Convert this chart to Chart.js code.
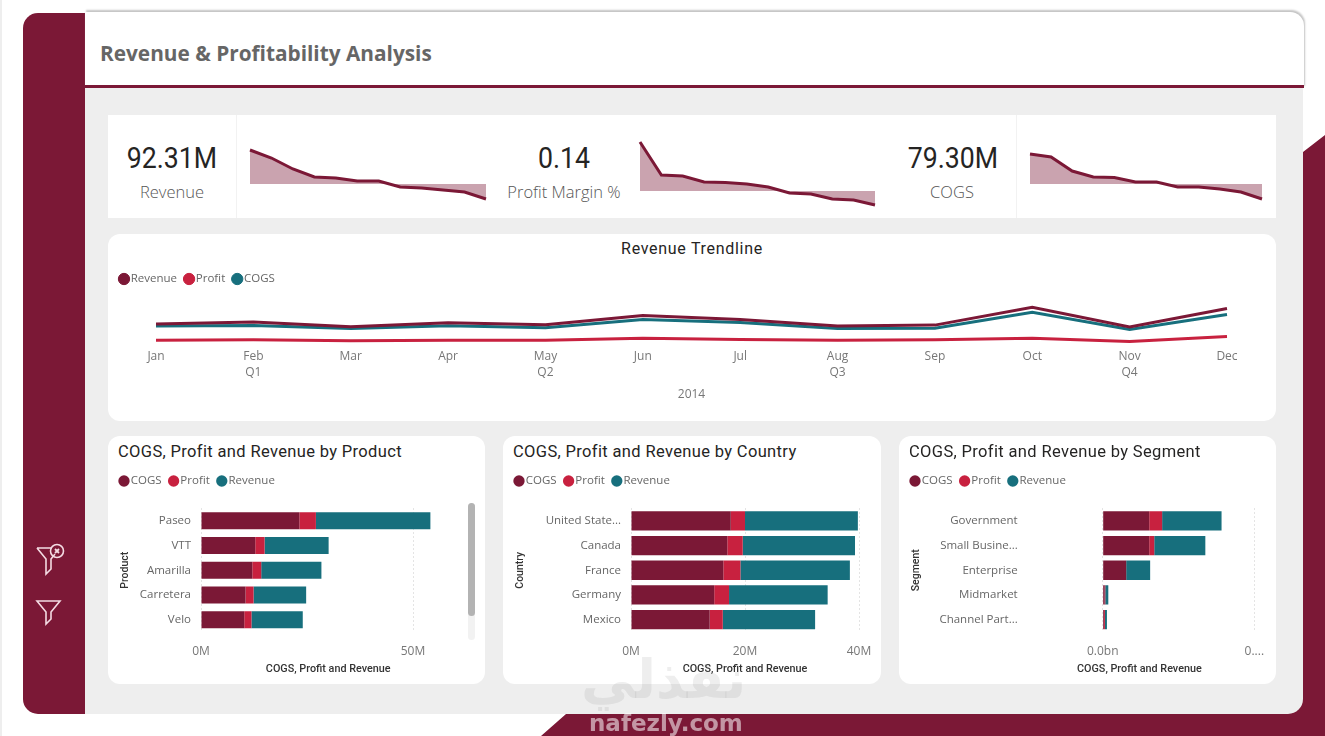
<!DOCTYPE html>
<html>
<head>
<meta charset="utf-8">
<title>Revenue & Profitability Analysis</title>
<script src="https://cdn.jsdelivr.net/npm/chart.js@4"></script>
<style>
  html, body { margin: 0; padding: 0; background: #fff; overflow: hidden; }
  #page { position: relative; width: 1325px; height: 736px; overflow: hidden; font-family: "Open Sans", sans-serif; }
  #page > * { position: absolute; }
  canvas { position: absolute; }
  .edge { left: 0; top: 0; width: 2px; height: 736px; background: #eee; }
  .side { left: 23px; top: 13px; width: 62px; height: 701px; background: #7b1836; border-radius: 15px 0 0 15px; }
  .corner { left: 0; top: 0; width: 1325px; height: 736px; background: #7b1836;
    clip-path: polygon(541px 736px, 566px 714px, 1285px 714px, 1285px 695px, 1303px 695px, 1303px 152px, 1325px 135px, 1325px 736px); }
  .panel { left: 85px; top: 86px; width: 1218px; height: 628px; background: #eee; border-radius: 0 0 15px 0; }
  .head { left: 85px; top: 12px; width: 1219px; height: 73px; background: #fff; border-bottom: 3px solid #7b1836;
    border-radius: 0 14px 0 0; box-shadow: 1px -2px 2px #c4c4c4; }
  .head span { position: absolute; left: 15px; top: 27px; font-size: 20.8px; font-weight: 700; color: #666; white-space: nowrap; }
  .kpis { left: 108px; top: 115px; width: 1168px; height: 103px; background: #fff; }
  .sep { top: 115px; width: 1px; height: 103px; background: #f2f2f2; }
  .num { top: 140px; width: 130px; text-align: center; font: 400 30px Roboto, sans-serif; color: #252423; transform: scaleX(.89); }
  .lab { top: 180px; width: 150px; text-align: center; font-size: 16.5px; font-weight: 300; color: #555; white-space: nowrap; }
  .card { background: #fff; border-radius: 12px; }
  .ttl { font: 400 16.5px Roboto, sans-serif; color: #252423; letter-spacing: .35px; white-space: nowrap; }
  .axt { font: 500 10.8px Roboto, sans-serif; color: #333; white-space: nowrap; }
  .bar1 { left: 468px; top: 503px; width: 7px; height: 137px; border-radius: 4px; background: #f2f2f2; }
  .bar2 { left: 468px; top: 503px; width: 7px; height: 113px; border-radius: 4px; background: #b3b3b3; }
  .mark1 { left: 581px; top: 648px; font: 700 54px "DejaVu Sans", sans-serif; color: rgba(120,120,120,.13); white-space: nowrap; }
  .mark2 { left: 589px; top: 710px; font: 700 23px "DejaVu Sans", sans-serif; color: rgba(255,255,255,.55); white-space: nowrap; }
</style>
</head>
<body>
<div id="page">
  <div class="edge"></div>
  <div class="corner"></div>
  <div class="side"></div>
  <div class="panel"></div>
  <div class="head"><span>Revenue &amp; Profitability Analysis</span></div>

  <svg style="left:34px;top:542px" width="34" height="36" viewBox="0 0 34 36" fill="none" stroke="#f4dbe3" stroke-width="1.6">
    <path d="M3 6 H18 M3 6 L12 17 V32 L17 27 V17 L21 12"/>
    <circle cx="23" cy="9" r="6.5"/>
    <path d="M21 7 L25 11 M25 7 L21 11" stroke-width="1.8"/>
  </svg>
  <svg style="left:34px;top:598px" width="30" height="28" viewBox="0 0 30 28" fill="none" stroke="#f4dbe3" stroke-width="1.6">
    <path d="M3 3 H26 L17 14 V21 L12 26 V14 Z"/>
  </svg>

  <div class="kpis"></div>
  <div class="sep" style="left:236px"></div>
  <div class="sep" style="left:1016px"></div>
  <div class="num" style="left:107px">92.31M</div>
  <div class="lab" style="left:97px">Revenue</div>
  <div class="num" style="left:499px">0.14</div>
  <div class="lab" style="left:489px">Profit Margin %</div>
  <div class="num" style="left:888px">79.30M</div>
  <div class="lab" style="left:877px">COGS</div>
  <canvas id="sparkRevenue" style="left:244px;top:130px;width:248px;height:80px"></canvas>
  <canvas id="sparkMargin" style="left:634px;top:130px;width:247px;height:80px"></canvas>
  <canvas id="sparkCogs" style="left:1024px;top:130px;width:244px;height:80px"></canvas>

  <div class="card" style="left:108px;top:234px;width:1168px;height:187px"></div>
  <div class="ttl" style="left:108px;top:239px;width:1168px;text-align:center;font-size:16px;letter-spacing:.7px">Revenue Trendline</div>
  <canvas id="trendChart" style="left:108px;top:234px;width:1168px;height:187px"></canvas>

  <div class="card" style="left:108px;top:436px;width:377px;height:248px"></div>
  <div class="ttl" style="left:118px;top:442px">COGS, Profit and Revenue by Product</div>
  <canvas id="productChart" style="left:108px;top:436px;width:377px;height:248px"></canvas>
  <div class="bar1"></div>
  <div class="bar2"></div>

  <div class="card" style="left:503px;top:436px;width:378px;height:248px"></div>
  <div class="ttl" style="left:513px;top:442px">COGS, Profit and Revenue by Country</div>
  <canvas id="countryChart" style="left:503px;top:436px;width:378px;height:248px"></canvas>

  <div class="card" style="left:899px;top:436px;width:377px;height:248px"></div>
  <div class="ttl" style="left:909px;top:442px">COGS, Profit and Revenue by Segment</div>
  <canvas id="segmentChart" style="left:899px;top:436px;width:377px;height:248px"></canvas>
  <div class="axt" style="left:1077px;top:662px">COGS, Profit and Revenue</div>

  <div class="mark1" dir="rtl">نفذلي</div>
  <div class="mark2">nafezly.com</div>
</div>

<script>
  const WINE = '#7b1836';
  const CRIMSON = '#c8213f';
  const TEAL = '#176f7d';
  const UI_FONT = '"Open Sans", sans-serif';

  // KPI sparklines, months sorted high to low (millions)
  const sparkRevenue = [15, 13, 10.25, 8.25, 8, 7.25, 7.25, 5.75, 5.5, 5, 4.5, 2.75];
  const sparkRevenueBase = 6.5;
  const sparkMargin = [17, 8.75, 8.5, 7, 6.9, 6.5, 5.75, 4.25, 4, 2.75, 2.5, 1.25];
  const sparkMarginBase = 4.75;
  const sparkCogs = [14, 13.25, 9.75, 8.25, 8.1, 7, 7, 5.75, 5.75, 5.25, 4.5, 2.75];
  const sparkCogsBase = 6.5;

  // Revenue trendline (millions)
  const trendMonths = [['Jan'], ['Feb', 'Q1'], ['Mar'], ['Apr'], ['May', 'Q2'], ['Jun'],
    ['Jul'], ['Aug', 'Q3'], ['Sep'], ['Oct'], ['Nov', 'Q4'], ['Dec']];
  const trendRevenue = [6.6, 7.3, 5.6, 7.0, 6.3, 9.5, 8.1, 5.9, 6.2, 12.3, 5.6, 11.9];
  const trendProfit = [1.0, 1.2, 0.8, 1.0, 1.0, 1.7, 1.3, 1.0, 1.2, 1.7, 0.6, 2.3];
  const trendCogs = [5.9, 6.1, 5.0, 6.0, 5.3, 8.1, 7.1, 5.0, 5.1, 10.6, 4.7, 9.8];

  // Bars by product (millions)
  const products = ['Paseo', 'VTT', 'Amarilla', 'Carretera', 'Velo'];
  const productCogs = [23.2, 12.8, 12.1, 10.5, 10.2];
  const productProfit = [3.9, 2.2, 2.1, 1.9, 1.7];
  const productRevenue = [27.0, 15.1, 14.2, 12.4, 12.1];
  const productTicks = [0, 50];
  const productTickLabels = ['0M', '50M'];

  // Bars by country (millions)
  const countries = ['United State...', 'Canada', 'France', 'Germany', 'Mexico'];
  const countryCogs = [17.5, 16.9, 16.2, 14.6, 13.8];
  const countryProfit = [2.5, 2.7, 3.0, 2.6, 2.3];
  const countryRevenue = [19.8, 19.7, 19.2, 17.3, 16.2];
  const countryTicks = [0, 20, 40];
  const countryTickLabels = ['0M', '20M', '40M'];

  // Bars by segment (millions)
  const segments = ['Government', 'Small Busine...', 'Enterprise', 'Midmarket', 'Channel Part...'];
  const segmentCogs = [30.7, 30.7, 15.5, 1.3, 0.9];
  const segmentProfit = [8.5, 3.3, 0, 0.4, 0.6];
  const segmentRevenue = [39.2, 33.7, 15.8, 2.0, 1.3];
  const segmentTicks = [0, 100];
  const segmentTickLabels = ['0.0bn', '0....'];

  // adds room under the legend, chart.js has no option for it
  const legendGap = {
    id: 'legendGap',
    beforeInit(chart, args, opts) {
      const fit = chart.legend.fit;
      chart.legend.fit = function () {
        fit.call(this);
        this.height += opts.gap;
      };
    }
  };

  function legendOptions() {
    return {
      position: 'top',
      align: 'start',
      labels: {
        usePointStyle: true,
        pointStyle: 'circle',
        boxWidth: 2,
        boxHeight: 8,
        padding: 11,
        color: '#666',
        font: { family: UI_FONT, size: 11.5 }
      }
    };
  }

  function sparkline(id, values, base) {
    new Chart(document.getElementById(id), {
      type: 'line',
      data: {
        labels: values.map((v, i) => i),
        datasets: [{
          data: values,
          borderColor: WINE,
          borderWidth: 3,
          backgroundColor: 'rgba(123,24,54,0.4)',
          fill: { value: base },
          pointRadius: 0,
          tension: 0,
          clip: false
        }]
      },
      options: {
        responsive: false,
        animation: false,
        layout: { padding: { left: 6, right: 6 } },
        plugins: { legend: { display: false }, tooltip: { enabled: false } },
        scales: {
          x: { display: false },
          y: { display: false, min: 0, max: 20 }
        }
      }
    });
  }

  function sizeCanvas(id) {
    const c = document.getElementById(id);
    c.width = parseFloat(c.style.width);
    c.height = parseFloat(c.style.height);
  }

  function barChart(id, labels, cogs, profit, revenue, o) {
    new Chart(document.getElementById(id), {
      type: 'bar',
      plugins: [legendGap],
      data: {
        labels: labels,
        datasets: [
          { label: 'COGS', data: cogs, backgroundColor: WINE },
          { label: 'Profit', data: profit, backgroundColor: CRIMSON },
          { label: 'Revenue', data: revenue, backgroundColor: TEAL }
        ]
      },
      options: {
        indexAxis: 'y',
        responsive: false,
        animation: false,
        categoryPercentage: 1,
        barPercentage: o.barPct,
        layout: { padding: { left: 4, right: o.right, top: 28.25, bottom: 0 } },
        plugins: {
          legendGap: { gap: 11.75 },
          legend: legendOptions(),
          tooltip: { enabled: false }
        },
        scales: {
          x: {
            stacked: true,
            min: 0,
            max: o.max,
            afterBuildTicks: s => { s.ticks = o.ticks.map(v => ({ value: v })); },
            afterFit: s => {
              s.height = 52;
              s.paddingLeft = 0;
              s.paddingRight = 0;
            },
            grid: { color: '#c8c8c8', drawTicks: false, tickLength: 0 },
            border: { display: false, dash: [1, 3] },
            ticks: {
              padding: 12,
              maxRotation: 0,
              autoSkip: false,
              color: '#777',
              font: { family: UI_FONT, size: 12 },
              callback: (v, i) => o.tickLabels[i]
            },
            title: {
              display: o.showXTitle,
              text: 'COGS, Profit and Revenue',
              color: '#333',
              font: { family: 'Roboto', size: 10.8, weight: 500 },
              padding: { top: 0, bottom: 8 }
            }
          },
          y: {
            stacked: true,
            // tick padding also pads the scale top and bottom, drop that here
            afterFit: s => {
              s.width = o.yWidth;
              s.paddingTop = 0;
              s.paddingBottom = 0;
            },
            grid: { display: false, drawTicks: false },
            border: { display: false },
            ticks: {
              padding: o.labelGap,
              autoSkip: false,
              color: '#666',
              font: { family: UI_FONT, size: 11.5 }
            },
            title: {
              display: true,
              text: o.yTitle,
              color: '#333',
              font: { family: 'Roboto', size: 10.5, weight: 500 },
              padding: { top: 7, bottom: 0 }
            }
          }
        }
      }
    });
  }

  ['sparkRevenue', 'sparkMargin', 'sparkCogs', 'trendChart', 'productChart', 'countryChart', 'segmentChart'].forEach(sizeCanvas);

  sparkline('sparkRevenue', sparkRevenue, sparkRevenueBase);
  sparkline('sparkMargin', sparkMargin, sparkMarginBase);
  sparkline('sparkCogs', sparkCogs, sparkCogsBase);

  new Chart(document.getElementById('trendChart'), {
    type: 'line',
    plugins: [legendGap],
    data: {
      labels: trendMonths,
      datasets: [
        { label: 'Revenue', data: trendRevenue, borderColor: WINE, backgroundColor: WINE },
        { label: 'Profit', data: trendProfit, borderColor: CRIMSON, backgroundColor: CRIMSON },
        { label: 'COGS', data: trendCogs, borderColor: TEAL, backgroundColor: TEAL }
      ]
    },
    options: {
      responsive: false,
      animation: false,
      elements: { line: { borderWidth: 3, tension: 0 }, point: { radius: 0 } },
      layout: { padding: { left: 4, right: 49, top: 28.25, bottom: 0 } },
      plugins: {
        legendGap: { gap: 0 },
        legend: legendOptions(),
        tooltip: { enabled: false }
      },
      scales: {
        x: {
          grid: { display: false, drawTicks: false },
          border: { display: false },
          afterFit: s => { s.height = 77.8; },
          ticks: {
            padding: 4.5,
            maxRotation: 0,
            autoSkip: false,
            color: '#777',
            font: { family: UI_FONT, size: 12, lineHeight: 1.4 }
          },
          title: {
            display: true,
            text: '2014',
            color: '#777',
            font: { family: UI_FONT, size: 12 },
            padding: { top: 0, bottom: 19 }
          }
        },
        y: {
          min: 0,
          max: 16.6,
          afterFit: s => {
            s.width = 44;
            s.paddingTop = 0;
            s.paddingBottom = 0;
          },
          grid: { display: false },
          border: { display: false },
          ticks: { display: false }
        }
      }
    }
  });

  barChart('productChart', products, productCogs, productProfit, productRevenue, {
    barPct: 0.69, right: 29.6, max: 60, ticks: productTicks, tickLabels: productTickLabels,
    yWidth: 89, labelGap: 10, yTitle: 'Product', showXTitle: true
  });
  barChart('countryChart', countries, countryCogs, countryProfit, countryRevenue, {
    barPct: 0.78, right: 22, max: 40, ticks: countryTicks, tickLabels: countryTickLabels,
    yWidth: 124, labelGap: 10, yTitle: 'Country', showXTitle: true
  });
  barChart('segmentChart', segments, segmentCogs, segmentProfit, segmentRevenue, {
    barPct: 0.78, right: 21.7, max: 100, ticks: segmentTicks, tickLabels: segmentTickLabels,
    yWidth: 199.7, labelGap: 85, yTitle: 'Segment', showXTitle: false
  });
</script>
</body>
</html>
